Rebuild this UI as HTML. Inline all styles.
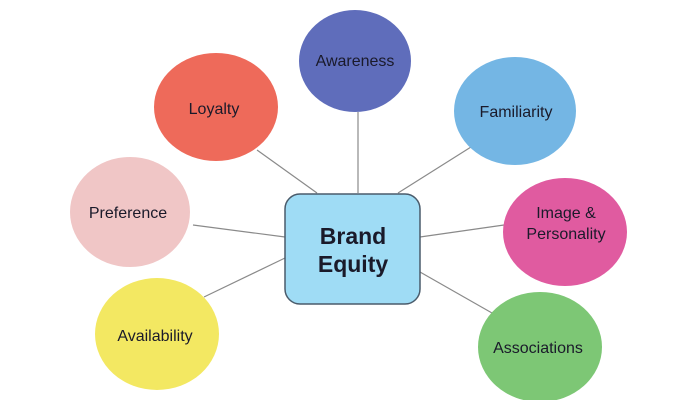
<!DOCTYPE html>
<html><head><style>body{margin:0;background:#fff}svg{display:block}text{font-family:"Liberation Sans",sans-serif;fill:#1a1a2a}</style></head><body>
<svg width="700" height="400" viewBox="0 0 700 400">
<g stroke="#8a8a8a" stroke-width="1.2">
<line x1="257" y1="150" x2="317" y2="193"/>
<line x1="358" y1="112" x2="358" y2="193"/>
<line x1="471" y1="147" x2="398" y2="193"/>
<line x1="193" y1="225" x2="285" y2="237"/>
<line x1="504" y1="225" x2="420" y2="237"/>
<line x1="204" y1="297" x2="285" y2="258"/>
<line x1="492" y1="313" x2="420" y2="272"/>
</g>
<ellipse cx="355" cy="61" rx="56" ry="51" fill="#5f6dbb"/>
<ellipse cx="216" cy="107" rx="62" ry="54" fill="#ee6a5a"/>
<ellipse cx="515" cy="111" rx="61" ry="54" fill="#74b6e4"/>
<ellipse cx="130" cy="212" rx="60" ry="55" fill="#f0c6c6"/>
<ellipse cx="565" cy="232" rx="62" ry="54" fill="#e05ba0"/>
<ellipse cx="157" cy="334" rx="62" ry="56" fill="#f3e862"/>
<ellipse cx="540" cy="347" rx="62" ry="55" fill="#7dc775"/>
<rect x="285" y="194" width="135" height="110" rx="15" fill="#9fdcf5" stroke="#4a5b6b" stroke-width="1.5"/>
<g font-size="16" text-anchor="middle">
<text x="355" y="66">Awareness</text>
<text x="214" y="114">Loyalty</text>
<text x="516" y="117">Familiarity</text>
<text x="128" y="218">Preference</text>
<text x="566" y="218">Image &amp;</text>
<text x="566" y="239">Personality</text>
<text x="155" y="341">Availability</text>
<text x="538" y="353">Associations</text>
</g>
<g font-size="23" font-weight="bold" text-anchor="middle">
<text x="353" y="244">Brand</text>
<text x="353" y="272">Equity</text>
</g>
</svg>
</body></html>
